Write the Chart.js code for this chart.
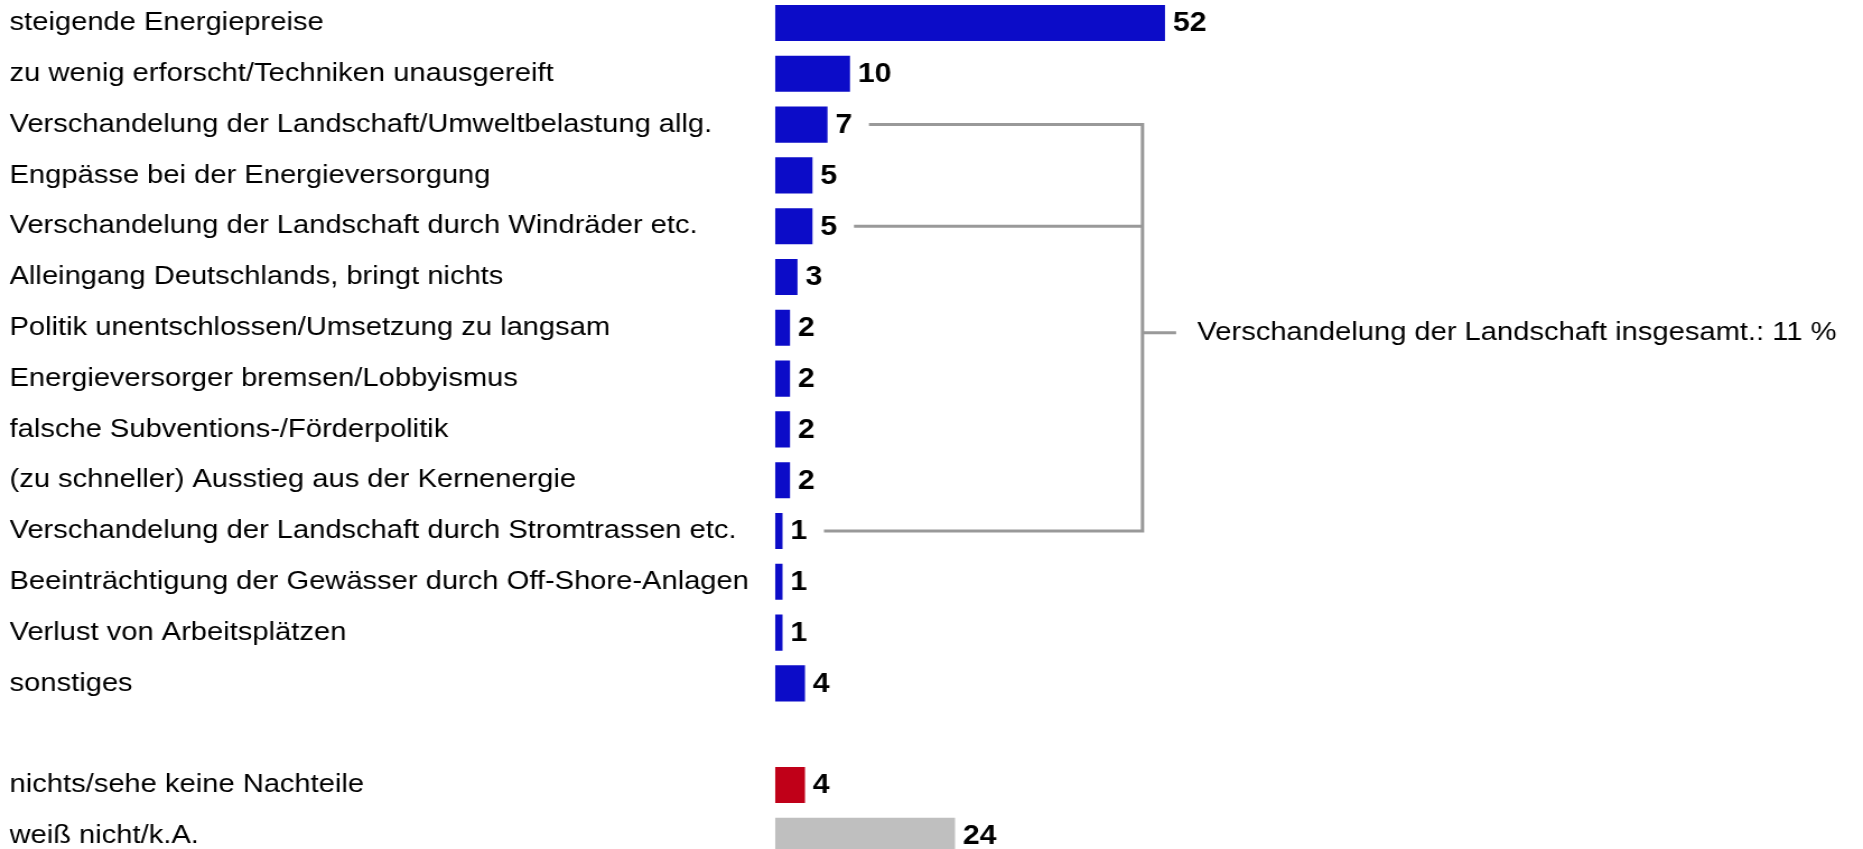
<!DOCTYPE html>
<html>
<head>
<meta charset="utf-8">
<script src="https://cdn.jsdelivr.net/npm/chart.js@4"></script>
<style>
  html, body { margin: 0; padding: 0; overflow: hidden; background: #fff; }
</style>
</head>
<body>
<!-- the original picture is a bit wider than tall, so the canvas is stretched sideways -->
<canvas id="myChart-bar" width="1663" height="865"
        style="position:absolute; left:0; top:-3px; width:1863px; height:865px;"></canvas>
<script>
/*               Nachteile der Energiewende (Angaben in %)                */

const categories = [
    'steigende Energiepreise',
    'zu wenig erforscht/Techniken unausgereift',
    'Verschandelung der Landschaft/Umweltbelastung allg.',
    'Engpässe bei der Energieversorgung',
    'Verschandelung der Landschaft durch Windräder etc.',
    'Alleingang Deutschlands, bringt nichts',
    'Politik unentschlossen/Umsetzung zu langsam',
    'Energieversorger bremsen/Lobbyismus',
    'falsche Subventions-/Förderpolitik',
    '(zu schneller) Ausstieg aus der Kernenergie',
    'Verschandelung der Landschaft durch Stromtrassen etc.',
    'Beeinträchtigung der Gewässer durch Off-Shore-Anlagen',
    'Verlust von Arbeitsplätzen',
    'sonstiges',
    '',
    'nichts/sehe keine Nachteile',
    'weiß nicht/k.A.'
];
const values = [52, 10, 7, 5, 5, 3, 2, 2, 2, 2, 1, 1, 1, 4, null, 4, 24];

// rows that are summed up by the bracket on the right
const groupRows = [2, 4, 10];
const groupLabel = 'Verschandelung der Landschaft insgesamt.: 11 %';

const blue = '#0C0CC8';
const barColors = values.map((v, i) => i === 15 ? '#C00018' : (i === 16 ? '#BFBFBF' : blue));

Chart.defaults.font.family = '"Liberation Sans", Arial, sans-serif';
Chart.defaults.font.size = 26;
Chart.defaults.color = '#000';

// value labels and the bracket for the landscape answers
const labelPlugin = {
    id: 'labelPlugin',
    afterDatasetsDraw(chart) {
        const ctx = chart.ctx;
        const bars = chart.getDatasetMeta(0).data;
        const bx = chart.scales.x.getPixelForValue(49);

        ctx.save();
        ctx.font = 'bold 27px "Liberation Sans", Arial, sans-serif';
        ctx.fillStyle = '#000';
        ctx.textAlign = 'left';
        ctx.textBaseline = 'middle';
        bars.forEach((bar, i) => {
            if (values[i] === null) return;
            ctx.fillText(String(values[i]), bar.x + 7, bar.y + 1);
        });

        ctx.strokeStyle = '#999999';
        ctx.lineWidth = 3;
        const first = bars[groupRows[0]];
        const last = bars[groupRows[groupRows.length - 1]];
        ctx.beginPath();
        ctx.moveTo(first.x + 37, first.y);
        ctx.lineTo(bx, first.y);
        ctx.lineTo(bx, last.y);
        ctx.lineTo(last.x + 37, last.y);
        ctx.stroke();
        ctx.beginPath();
        groupRows.slice(1, -1).forEach(r => {
            ctx.moveTo(bars[r].x + 37, bars[r].y);
            ctx.lineTo(bx, bars[r].y);
        });
        const mid = (first.y + last.y) / 2 + 5;
        ctx.moveTo(bx, mid);
        ctx.lineTo(bx + 30, mid);
        ctx.stroke();

        ctx.font = '26px "Liberation Sans", Arial, sans-serif';
        ctx.fillText(groupLabel, bx + 49, mid);
        ctx.restore();
    }
};

let ctx0 = document.getElementById('myChart-bar').getContext('2d');
var chart = new Chart(ctx0, {
    // The type of chart we want to create
    type: 'bar',
    // The data for our dataset
    data: {
        labels: categories,
        datasets: [{
            data: values,
            backgroundColor: barColors,
            borderWidth: 0,
            barPercentage: 0.71,
            categoryPercentage: 1.0
        }]
    },
    plugins: [labelPlugin],

    // Configuration options go here
    options: {
        indexAxis: 'y',
        responsive: false,
        animation: false,
        layout: {
            padding: { left: 8.5, right: 33.9, top: 0.6, bottom: 0.8 }
        },
        plugins: {
            legend: { display: false },
            tooltip: { enabled: false }
        },
        scales: {
            x: {
                display: false,
                min: 0,
                max: 140
            },
            y: {
                grid: { display: false, drawTicks: false },
                border: { display: false },
                ticks: {
                    crossAlign: 'far',
                    padding: 0,
                    autoSkip: false,
                    color: '#000',
                    // tiny line height so the first/last label adds no extra padding
                    font: { size: 26, lineHeight: 0.01 }
                },
                afterFit: function (scale) {
                    scale.width = 683.3;
                }
            }
        }
    }
});
</script>
</body>
</html>
